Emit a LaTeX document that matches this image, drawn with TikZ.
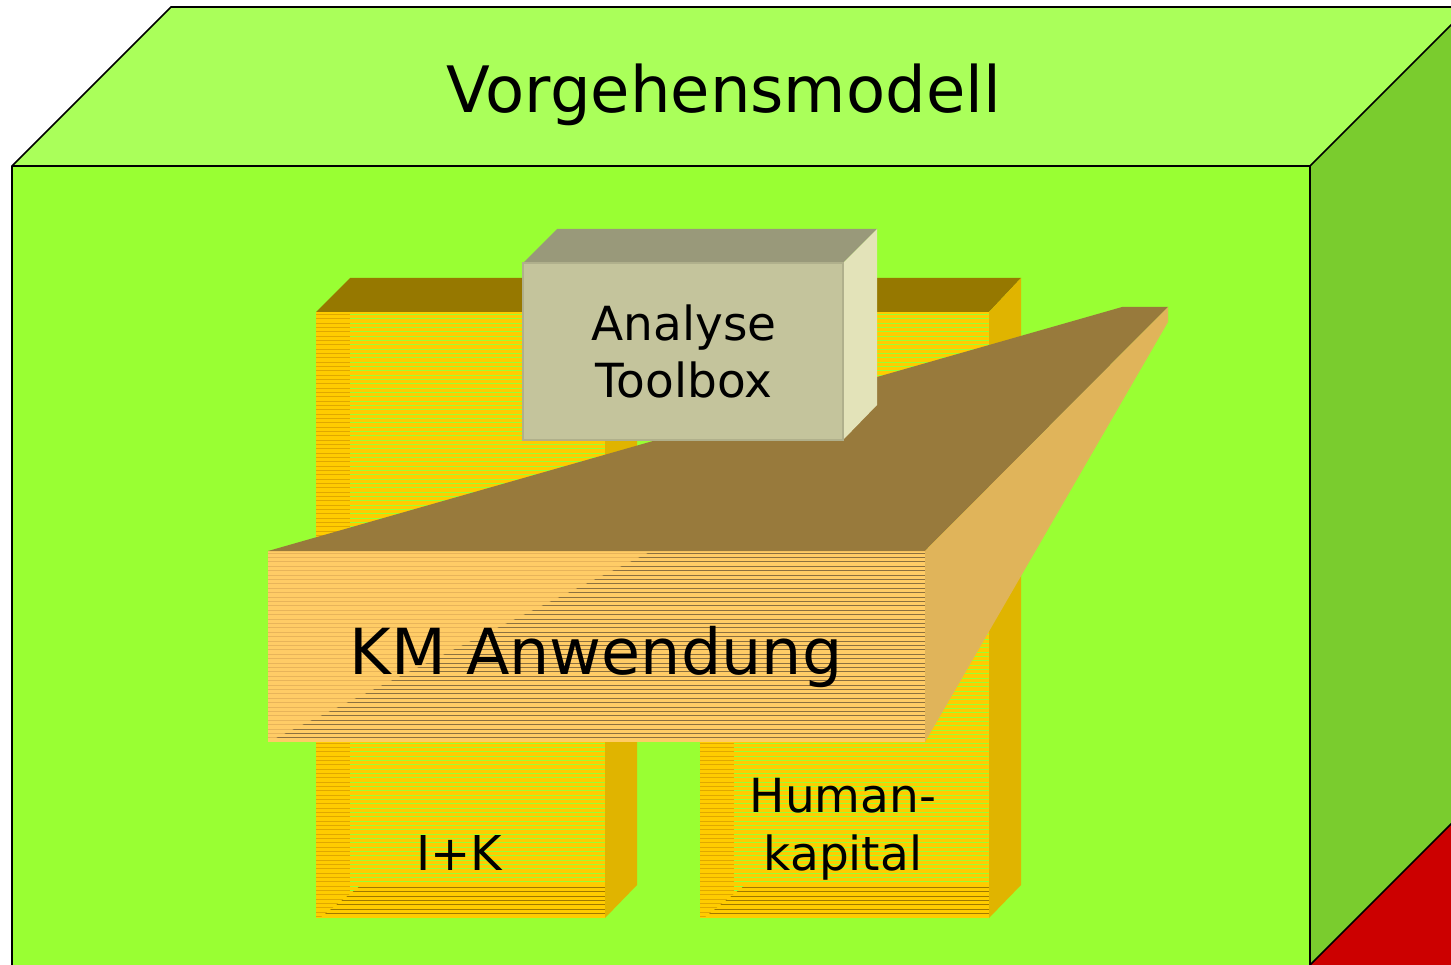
\documentclass[tikz,border=0pt]{standalone}
\usepackage{fontspec}
\setmainfont{DejaVu Sans}
\definecolor{topgreen}{HTML}{AAFF5A}
\definecolor{frontgreen}{HTML}{99FF33}
\definecolor{sidegreen}{HTML}{7ACC2E}
\definecolor{boxred}{HTML}{CC0000}
\definecolor{pillarfront}{HTML}{FFCC00}
\definecolor{pillartop}{HTML}{967800}
\definecolor{pillarside}{HTML}{E0B400}
\definecolor{pillarline}{HTML}{E0A800}
\definecolor{pillardark}{HTML}{A07800}
\definecolor{slabfront}{HTML}{FFCC66}
\definecolor{slabtop}{HTML}{987A3C}
\definecolor{slabside}{HTML}{E0B45A}
\definecolor{slablight}{HTML}{E8B45A}
\definecolor{slabdark}{HTML}{8C7040}
\definecolor{tbfront}{HTML}{C4C49C}
\definecolor{tbtop}{HTML}{99997A}
\definecolor{tbside}{HTML}{E3E3B9}
\definecolor{tbedge}{HTML}{B0B08C}
\tikzset{
  edge/.style={draw=black, line width=1.6pt},
  stripe/.style={line width=0.9pt},
  label/.style={inner sep=0pt, align=center, text=black},
}
\begin{document}
\begin{tikzpicture}[x=1pt,y=-1pt]
\useasboundingbox (0,0) rectangle (1451,965);
\fill[white] (0,0) rectangle (1451,965);
\clip (0,0) rectangle (1451,965);
% big box
\fill[topgreen] (12,166) -- (171,7) -- (1469,7) -- (1310,166) -- cycle;
\fill[sidegreen] (1310,166) -- (1469,7) -- (1469,806) -- (1310,965) -- cycle;
\fill[boxred] (1310,965) -- (1469,806) -- (1469,1000) -- (1310,1000) -- cycle;
\fill[frontgreen] (12,166) rectangle (1310,1000);
\draw[edge] (12,1000) -- (12,166) -- (171,7) -- (1469,7);
\draw[edge] (12,166) -- (1310,166) -- (1469,7);
\draw[edge] (1310,166) -- (1310,1000);
\draw[edge] (1310,965) -- (1469,806);
% pillars
\foreach \x in {316,700}{
  \fill[pillarfront] (\x,312) rectangle ({\x+289},918);
  \foreach \y in {314.5,318.83,...,917}{
    \draw[stripe, frontgreen] ({\x+34},\y) -- ({\x+289},\y);
    \draw[stripe, pillarline] (\x,\y) -- ({\x+34},\y);
  }
  \begin{scope}
    \clip ({\x+4},918) -- ({\x+289},918) -- ({\x+289},886) -- ({\x+44},886) -- cycle;
    \fill[pillarfront] (\x,884) rectangle ({\x+289},918);
    \foreach \y in {887.5,891.83,...,917}{
      \draw[stripe, pillardark] (\x,\y) -- ({\x+289},\y);
    }
  \end{scope}
  \fill[pillartop] (\x,312) -- ({\x+34},278) -- ({\x+321},278) -- ({\x+289},312) -- cycle;
  \fill[pillarside] ({\x+289},312) -- ({\x+321},278) -- ({\x+321},885) -- ({\x+289},918) -- cycle;
}
% KM slab
\fill[slabfront] (268,551) rectangle (925,742);
\foreach \y in {553,557.4,...,741}{
  \draw[stripe, slablight] (268,\y) -- (925,\y);
}
\begin{scope}
  \clip (268,742) -- (652,551) -- (925,551) -- (925,742) -- cycle;
  \fill[slabfront] (268,551) rectangle (925,742);
  \foreach \y in {553,557.4,...,741}{
    \draw[line width=0.7pt, slabdark] (268,\y) -- (925,\y);
  }
\end{scope}
\fill[slabtop] (268,551) -- (1122,307) -- (1168,307) -- (925,551) -- cycle;
\fill[slabside] (925,551) -- (1168,307) -- (1168,322) -- (925,742) -- cycle;
% toolbox
\fill[tbtop] (523,263) -- (557,229) -- (877,229) -- (843,263) -- cycle;
\fill[tbside] (843,263) -- (877,229) -- (877,405) -- (843,440) -- cycle;
\filldraw[fill=tbfront, draw=tbedge, line width=1.5pt] (523,263) rectangle (843,440);
% texts
\node[label, font=\fontsize{64}{64}\selectfont, anchor=base] (title) at (724,113) {Vorgehensmodell};
\node[label, font=\fontsize{47}{57}\selectfont] (toolbox) at (684,351) {Analyse\\Toolbox};
\node[label, font=\fontsize{63.5}{63.5}\selectfont, anchor=base] (km) at (596,674) {KM Anwendung};
\node[label, font=\fontsize{48}{58}\selectfont, anchor=base] (ik) at (459,870) {I+K};
\node[label, font=\fontsize{47}{58}\selectfont] (human) at (843,829) {Human-\\kapital};
\end{tikzpicture}
\end{document}
